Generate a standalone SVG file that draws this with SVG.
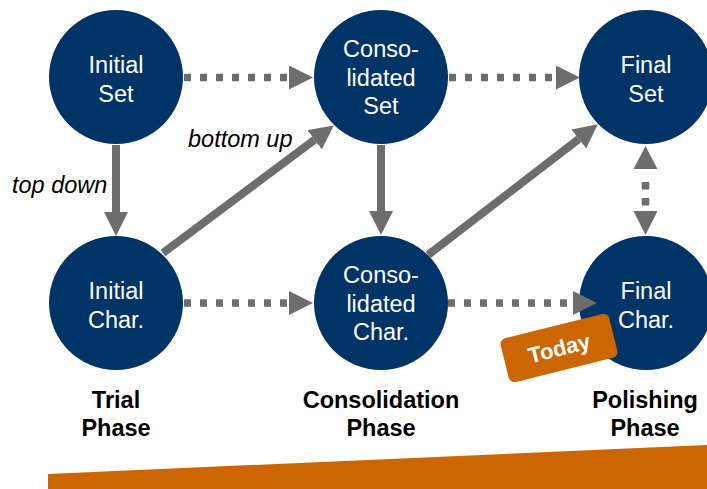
<svg xmlns="http://www.w3.org/2000/svg" width="707" height="489" viewBox="0 0 707 489">
<style>
.node{fill:#003366}
.nt{font-family:"Liberation Sans",Arial,sans-serif;font-size:23.5px;fill:#ffffff;text-anchor:middle}
.lbl{font-family:"Liberation Sans",Arial,sans-serif;font-size:23.5px;font-style:italic;fill:#000000}
.ph{font-family:"Liberation Sans",Arial,sans-serif;font-size:23.5px;font-weight:bold;fill:#000000;text-anchor:middle}
.solid{stroke:#6d6d6d;stroke-width:8;fill:none}
.dot{stroke:#6d6d6d;stroke-width:7.5;fill:none;stroke-dasharray:7 9}
</style>
<defs>
<marker id="ah" markerUnits="userSpaceOnUse" viewBox="0 0 24 24" markerWidth="24" markerHeight="24" refX="0" refY="12" orient="auto">
<path d="M0,0 L24,12 L0,24 Z" fill="#6d6d6d"/>
</marker>
</defs>
<polygon points="48,474 707,445 707,489 48,489" fill="#cc6600"/>
<g id="n-initial-set"><circle class="node" cx="116" cy="77" r="67"/><text class="nt" x="116" y="73">Initial</text><text class="nt" x="116" y="101.5">Set</text></g>
<g id="n-cons-set"><circle class="node" cx="381" cy="77" r="67"/><text class="nt" x="381" y="57">Conso-</text><text class="nt" x="381" y="85.5">lidated</text><text class="nt" x="381" y="114">Set</text></g>
<g id="n-final-set"><circle class="node" cx="646" cy="77" r="67"/><text class="nt" x="646" y="73">Final</text><text class="nt" x="646" y="101.5">Set</text></g>
<g id="n-initial-char"><circle class="node" cx="116" cy="303" r="67"/><text class="nt" x="116" y="299">Initial</text><text class="nt" x="116" y="327.5">Char.</text></g>
<g id="n-cons-char"><circle class="node" cx="381" cy="303" r="67"/><text class="nt" x="381" y="283">Conso-</text><text class="nt" x="381" y="311.5">lidated</text><text class="nt" x="381" y="340">Char.</text></g>
<g id="n-final-char"><circle class="node" cx="646" cy="303" r="67"/><text class="nt" x="646" y="299">Final</text><text class="nt" x="646" y="327.5">Char.</text></g>
<g id="connectors">
<line class="dot" x1="184" y1="77.5" x2="289" y2="77.5" marker-end="url(#ah)"/>
<line class="dot" x1="449" y1="77.5" x2="556" y2="77.5" marker-end="url(#ah)"/>
<line class="dot" x1="184" y1="303" x2="289" y2="303" marker-end="url(#ah)"/>
<line class="dot" x1="448" y1="303" x2="573" y2="303" marker-end="url(#ah)"/>
<line class="solid" x1="116" y1="145" x2="116" y2="212" marker-end="url(#ah)"/>
<line class="solid" x1="381" y1="145" x2="381" y2="211" marker-end="url(#ah)"/>
<line class="solid" x1="163" y1="253" x2="314.6" y2="139.8" marker-end="url(#ah)"/>
<line class="solid" x1="428" y1="255" x2="578.8" y2="139" marker-end="url(#ah)"/>
<line stroke="#6d6d6d" stroke-width="7.5" stroke-dasharray="7.5 8.5" x1="645.5" y1="182" x2="645.5" y2="206"/>
<path d="M633.5,169 L645.5,146 L657.5,169 Z M633.5,211 L645.5,235 L657.5,211 Z" fill="#6d6d6d"/>
</g>
<text class="lbl" x="12" y="193">top down</text>
<text class="lbl" x="188" y="147">bottom up</text>
<text class="ph" x="116" y="408">Trial</text><text class="ph" x="116" y="436">Phase</text>
<text class="ph" x="381" y="408">Consolidation</text><text class="ph" x="381" y="436">Phase</text>
<text class="ph" x="645" y="408">Polishing</text><text class="ph" x="645" y="436">Phase</text>
<g id="today" transform="translate(559,348) rotate(-14)">
<rect x="-56" y="-22.5" width="112" height="45" rx="6" fill="#cc6600"/>
<text x="0" y="8" text-anchor="middle" font-family="Liberation Sans,Arial,sans-serif" font-size="22" font-weight="bold" fill="#ffffff">Today</text>
</g>
</svg>
